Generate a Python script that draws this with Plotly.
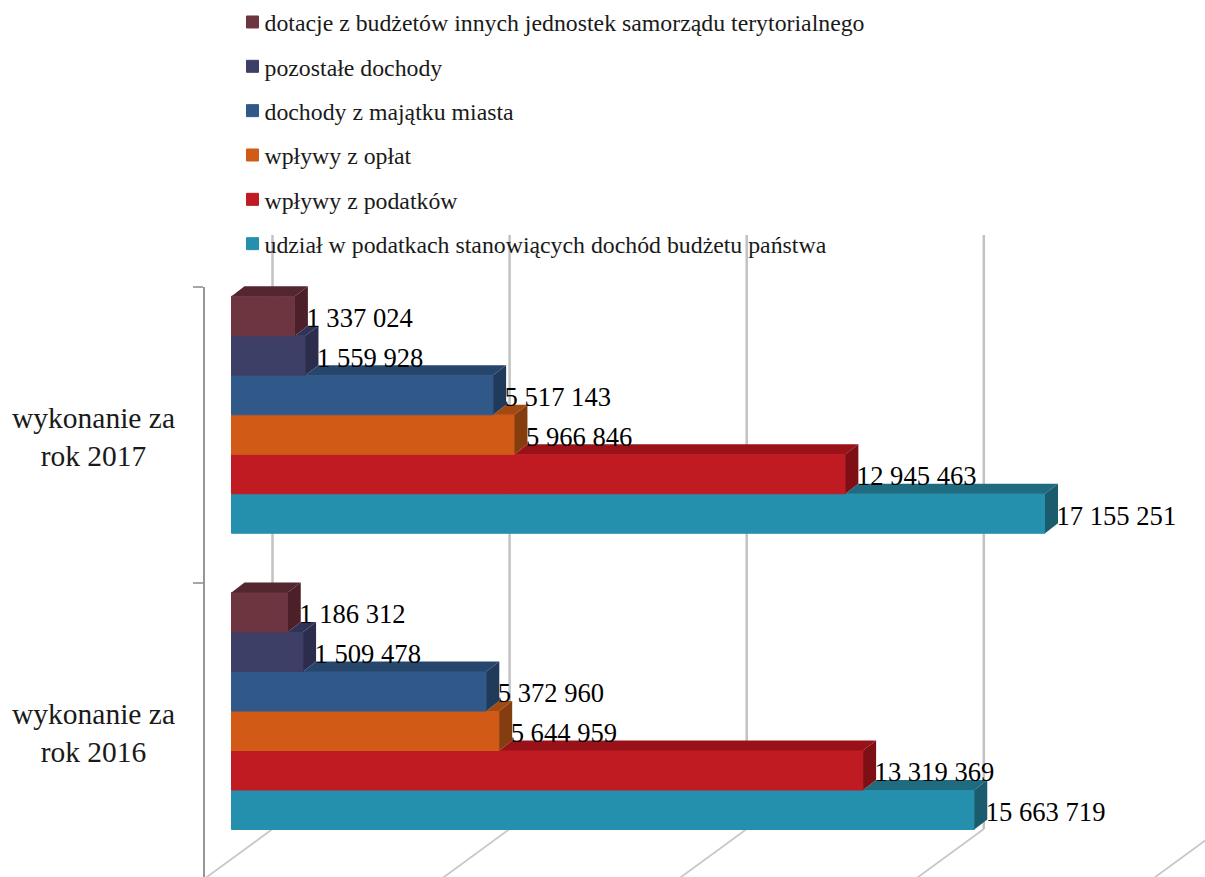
import plotly.graph_objects as go

# ---- data ----
categories = ["wykonanie za<br>rok 2016", "wykonanie za<br>rok 2017"]
series_names = [
    "udział w podatkach stanowiących dochód budżetu państwa",
    "wpływy z podatków",
    "wpływy z opłat",
    "dochody z majątku miasta",
    "pozostałe dochody",
    "dotacje z budżetów innych jednostek samorządu terytorialnego",
]
udzial = [15663719, 17155251]
podatki = [13319369, 12945463]
oplaty = [5644959, 5966846]
majatek = [5372960, 5517143]
pozostale = [1509478, 1559928]
dotacje = [1186312, 1337024]
series_values = [udzial, podatki, oplaty, majatek, pozostale, dotacje]
grid_ticks = [0, 5000000, 10000000, 15000000, 20000000]

# ---- style ----
front_colors = ["#2590AE", "#C01A22", "#D15A17", "#30598A", "#3E3F67", "#6D3540"]
top_colors = ["#1F6C80", "#9A1219", "#A34A10", "#27466C", "#2F3358", "#54262F"]
side_colors = ["#1A5C6E", "#7E0F14", "#843D0F", "#1F3A5A", "#2C2C4D", "#4B2028"]
W, H = 1205, 877
FONT = "Liberation Serif"
X0_PX, X_END_PX, X_END_VAL = 231.5, 1045.0, 17155251
K = (X_END_PX - X0_PX) / X_END_VAL        # px per unit
Y_STEP = 296.25                           # px per category
Y0_PX = 711.0                             # px of category 0 centre
DX, DY = 13 / K, 10 / Y_STEP              # bar depth in data units
WALL_DX = 41 / K                          # back wall offset
WALL_BOTTOM_PX, WALL_TOP_PX = 829.0, 235.0
GROUP = 0.8
N = len(series_values)
BAR_H = GROUP / N


def y_of_px(p):
    return (Y0_PX - p) / Y_STEP


fig = go.Figure()

for i, (name, vals) in enumerate(zip(series_names, series_values)):
    fig.add_trace(go.Bar(
        name=name, y=[0, 1], x=vals, orientation="h",
        marker=dict(color=front_colors[i], line=dict(color=front_colors[i], width=1)),
        legendgroup=name, legendrank=N - i, hoverinfo="skip",
    ))

# 3-D faces derived from the same values
for i, vals in enumerate(series_values):
    for c, v in enumerate(vals):
        yc = c + (i - (N - 1) / 2) * BAR_H
        yt, yb = yc + BAR_H / 2, yc - BAR_H / 2
        start = series_values[i + 1][c] if i + 1 < N else 0
        fig.add_trace(go.Scatter(
            x=[start, v, v + DX, start + DX, start],
            y=[yt, yt, yt + DY, yt + DY, yt],
            mode="lines", fill="toself", fillcolor=top_colors[i],
            line=dict(width=0), showlegend=False, hoverinfo="skip"))
        fig.add_trace(go.Scatter(
            x=[v, v + DX, v + DX, v, v],
            y=[yt, yt + DY, yb + DY, yb, yt],
            mode="lines", fill="toself", fillcolor=side_colors[i],
            line=dict(width=0), showlegend=False, hoverinfo="skip"))

# data labels
LABEL_DX = (13 - 1.5) / K
LABEL_DY = 4.5 / Y_STEP
for i, vals in enumerate(series_values):
    fig.add_trace(go.Scatter(
        x=[v + LABEL_DX for v in vals],
        y=[c + (i - (N - 1) / 2) * BAR_H - LABEL_DY for c in range(len(vals))],
        mode="text",
        text=[f"{v:,}".replace(",", " ") for v in vals],
        textposition="middle right",
        textfont=dict(family=FONT, size=26.6, color="#000000"),
        showlegend=False, hoverinfo="skip", cliponaxis=False))

# helper trace that brings the category axis to life
fig.add_trace(go.Scatter(
    x=[0, 0], y=categories, xaxis="x", yaxis="y2", mode="markers",
    marker=dict(opacity=0), showlegend=False, hoverinfo="skip"))

# back wall and floor gridlines, below the bars
shapes = []
yb_wall = y_of_px(WALL_BOTTOM_PX)
yt_wall = y_of_px(WALL_TOP_PX)
y_floor = y_of_px(H + 2)
floor_dx = (H + 2 - WALL_BOTTOM_PX) * 1.367 / K
for t in grid_ticks:
    xb = t + WALL_DX
    if t != grid_ticks[-1]:
        shapes.append(dict(type="line", xref="x", yref="y", layer="below",
                           x0=xb, x1=xb, y0=yb_wall, y1=yt_wall,
                           line=dict(color="#C2C2C2", width=2.5)))
    shapes.append(dict(type="line", xref="x", yref="y", layer="below",
                       x0=xb, x1=xb - floor_dx, y0=yb_wall, y1=y_floor,
                       line=dict(color="#C8C8C8", width=1.8)))

annotations = [
    dict(text=cat, xref="paper", yref="y2", x=93 / W, y=cat, showarrow=False,
         xanchor="center", yanchor="middle", align="center", yshift=-2,
         font=dict(family=FONT, size=29.5, color="#1a1a1a"))
    for cat in categories
]

fig.update_layout(
    width=W, height=H, margin=dict(l=0, r=0, t=0, b=0),
    plot_bgcolor="rgba(0,0,0,0)", paper_bgcolor="white",
    barmode="group", bargap=1 - GROUP, bargroupgap=0,
    shapes=shapes, annotations=annotations,
    xaxis=dict(range=[-X0_PX / K, (W - X0_PX) / K], visible=False, domain=[0, 1], fixedrange=True),
    yaxis=dict(range=[y_of_px(H), y_of_px(0)], visible=False, domain=[0, 1], fixedrange=True),
    yaxis2=dict(
        type="category", categoryorder="array", categoryarray=categories,
        domain=[0, (H - 287) / H], anchor="free", position=204 / W, side="left",
        range=[-0.4932, 1.5], tickson="boundaries", ticks="outside", ticklen=10, tickwidth=2,
        tickcolor="#A6A6A6", showline=True, linecolor="#969696", linewidth=2,
        showticklabels=False, showgrid=False, zeroline=False, fixedrange=True),
    legend=dict(
        x=232.5 / W, xanchor="left", y=1.0, yanchor="top",
        tracegroupgap=10.4,
        bgcolor="rgba(0,0,0,0)", font=dict(family=FONT, size=23.8, color="#1a1a1a")),
    showlegend=True,
)

post = """
document.body.style.margin='0';
document.documentElement.style.overflow='hidden';
document.querySelectorAll('.legendtext').forEach(function(t){
  t.setAttribute('x', parseFloat(t.getAttribute('x')) - 8);
});
"""
fig.write_html("out.html", post_script=post, config={"displayModeBar": False})
